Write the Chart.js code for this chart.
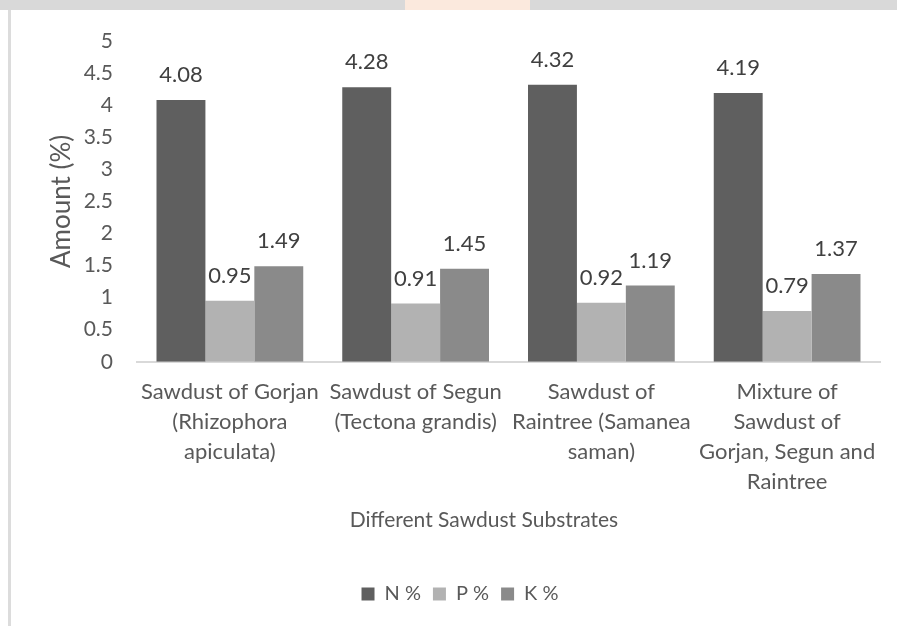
<!DOCTYPE html>
<html>
<head>
<meta charset="utf-8">
<script src="https://cdn.jsdelivr.net/npm/chart.js@4.4.1/dist/chart.umd.min.js"></script>
<style>
  html, body { margin: 0; padding: 0; background: #fff; }
  #wrap { position: relative; width: 897px; height: 626px; overflow: hidden; }
  #topband { position: absolute; left: 0; top: 0; width: 897px; height: 10px; background: #d9d9d9; }
  #topband .glow { position: absolute; left: 405px; top: 0; width: 125px; height: 10px; background: #fbe9dd; }
  #leftline { position: absolute; left: 8px; top: 10px; width: 3px; height: 616px; background: #dcdcdc; }
  canvas { position: absolute; left: 0; top: 0; }
</style>
</head>
<body>
<div id="wrap">
  <canvas id="chart" width="897" height="626"></canvas>
  <div id="topband"><div class="glow"></div></div>
  <div id="leftline"></div>
</div>
<script>
const categories = [
  ['Sawdust of Gorjan', '(Rhizophora', 'apiculata)'],
  ['Sawdust of Segun', '(Tectona grandis)'],
  ['Sawdust of', 'Raintree (Samanea', 'saman)'],
  ['Mixture of', 'Sawdust of', 'Gorjan, Segun and', 'Raintree']
];
const nValues = [4.08, 4.28, 4.32, 4.19];
const pValues = [0.95, 0.91, 0.92, 0.79];
const kValues = [1.49, 1.45, 1.19, 1.37];
const yTicks = [0, 0.5, 1, 1.5, 2, 2.5, 3, 3.5, 4, 4.5, 5];
const xTitle = 'Different Sawdust Substrates';

const FONT = "Lato, 'Open Sans', sans-serif";

// value labels above each bar, plus the x axis title (drawn a bit left of centre, like the original)
const barLabels = {
  id: 'barLabels',
  afterDatasetsDraw(chart) {
    const ctx = chart.ctx;
    ctx.save();
    ctx.font = '22px ' + FONT;
    ctx.fillStyle = '#404040';
    ctx.textAlign = 'center';
    ctx.textBaseline = 'middle';
    chart.data.datasets.forEach((ds, i) => {
      chart.getDatasetMeta(i).data.forEach((bar, j) => {
        ctx.fillText(ds.data[j].toFixed(2), bar.x, bar.y - 25);
      });
    });
    ctx.font = '21px ' + FONT;
    ctx.fillStyle = '#595959';
    ctx.fillText(xTitle, 484, 520);
    ctx.restore();
  }
};

new Chart(document.getElementById('chart'), {
  type: 'bar',
  data: {
    labels: categories,
    datasets: [
      { label: 'N %', data: nValues, backgroundColor: '#5f5f5f' },
      { label: 'P %', data: pValues, backgroundColor: '#b2b2b2' },
      { label: 'K %', data: kValues, backgroundColor: '#8a8a8a' }
    ]
  },
  options: {
    responsive: false,
    animation: false,
    categoryPercentage: 0.79,
    barPercentage: 1,
    layout: { padding: { left: 40, right: 17, top: 41, bottom: 12 } },
    plugins: {
      legend: {
        position: 'bottom',
        labels: {
          font: { family: FONT, size: 20 },
          color: '#595959',
          boxWidth: 13,
          boxHeight: 13,
          padding: 12
        }
      },
      tooltip: { enabled: false }
    },
    scales: {
      x: {
        grid: { display: false },
        border: { color: '#d9d9d9', width: 2 },
        ticks: {
          font: { family: FONT, size: 22, lineHeight: '30px' },
          color: '#595959',
          maxRotation: 0,
          autoSkip: false,
          padding: 7
        },
        title: {
          display: true,
          text: xTitle,
          font: { family: FONT, size: 21 },
          color: 'rgba(0,0,0,0)',
          padding: { top: 3, bottom: 40 }
        }
      },
      y: {
        min: 0,
        max: 5,
        grid: { display: false },
        border: { display: false },
        afterBuildTicks: s => { s.ticks = yTicks.map(v => ({ value: v })); },
        afterFit: s => { s.width = 97; },
        ticks: {
          font: { family: FONT, size: 21 },
          color: '#595959',
          padding: 16,
          callback: v => String(v)
        },
        title: {
          display: true,
          text: 'Amount (%)',
          font: { family: FONT, size: 26 },
          color: '#595959',
          padding: 6
        }
      }
    }
  },
  plugins: [barLabels]
});
</script>
</body>
</html>
